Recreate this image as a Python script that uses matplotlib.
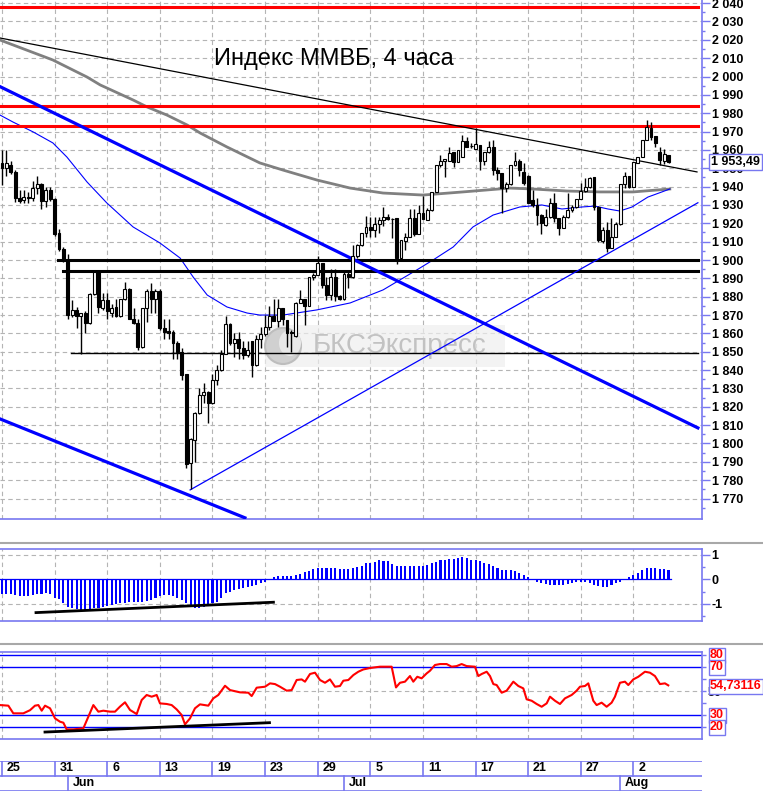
import numpy as np
import matplotlib
matplotlib.use('Agg')
import matplotlib.pyplot as plt
from matplotlib.patches import Rectangle, Ellipse

plt.rcParams['font.family'] = ['Liberation Sans', 'DejaVu Sans']

#####################################
###             Data              ###
# 4-hour candles (open, high, low, close), one per bar
opens = [1953, 1950, 1952, 1948, 1934, 1932.5, 1934.5, 1934, 1939, 1941.5, 1932, 1938,
         1933, 1914.5, 1906, 1900, 1870, 1873, 1869.5, 1871, 1865.5, 1881.5, 1893.6, 1874,
         1878, 1871, 1874.5, 1869.5, 1878.5, 1884, 1868, 1865.5, 1852.7, 1873.6, 1883, 1879,
         1883, 1862.7, 1861.3, 1861, 1854.5, 1850, 1837.8, 1789.4, 1802, 1816.7, 1826.7, 1828,
         1822, 1834.5, 1840, 1849, 1865, 1854.5, 1857, 1852, 1848, 1855.8, 1842.7, 1856.8,
         1859.7, 1863.3, 1869.5, 1867, 1873.7, 1867.3, 1861, 1858.6, 1876.7, 1878.5, 1875, 1890.5,
         1891.8, 1898.2, 1886.4, 1881, 1890.5, 1880.4, 1879, 1892.4, 1891, 1902.2, 1908.2, 1914.5,
         1917.8, 1916.4, 1919.6, 1921.6, 1923.3, 1922.2, 1922.8, 1901, 1910.5, 1912.7, 1922.7, 1914.2,
         1925.4, 1922, 1927, 1937.2, 1951.8, 1954, 1954.1, 1959, 1953.6, 1956.3, 1965, 1962,
         1960.3, 1962.6, 1954.1, 1959, 1961.8, 1949.1, 1947.2, 1939, 1941.4, 1951.8, 1954.1, 1948.1,
         1946, 1932.7, 1930, 1924.5, 1919, 1923.2, 1931.2, 1922.7, 1917.2, 1923.2, 1927.2, 1929,
         1933, 1937.8, 1939.6, 1945.4, 1929, 1910.5, 1916.4, 1906.4, 1912.7, 1919.6, 1941.4, 1945.8,
         1939.6, 1953.1, 1956, 1965.4, 1971.8, 1967.6, 1959, 1954.1, 1957.2]
highs = [1960, 1960, 1954, 1949, 1938, 1938, 1937, 1943, 1946, 1942, 1940, 1940,
         1934, 1917, 1907, 1903, 1878, 1874.5, 1871, 1872, 1882, 1894, 1894, 1882,
         1882, 1876, 1879, 1879, 1888, 1885, 1873.6, 1868, 1873.6, 1884, 1887.6, 1884,
         1884, 1868, 1868, 1862, 1856, 1852, 1838, 1803, 1817, 1830, 1832.7, 1828.5,
         1838, 1842.7, 1851, 1869.5, 1865.5, 1860, 1861, 1856, 1856, 1856, 1859, 1863.7,
         1870, 1875, 1879, 1879, 1874, 1867.5, 1862, 1877, 1883.6, 1879, 1890.5, 1893,
         1902.2, 1898.5, 1891, 1895, 1895, 1881, 1894, 1894, 1908, 1908.5, 1914.8, 1924,
         1923.6, 1923.6, 1923.6, 1928.7, 1925, 1922.8, 1923, 1911, 1914.5, 1928, 1927.6, 1930,
         1934.9, 1928.2, 1937.2, 1951.8, 1957.2, 1955, 1961.8, 1959.1, 1960, 1968.1, 1967.2, 1963.5,
         1971.8, 1962.6, 1959, 1965, 1965.4, 1950.9, 1947.5, 1942.7, 1951.8, 1959, 1955, 1952.7,
         1946.3, 1938, 1934, 1925, 1927.6, 1933.6, 1936.3, 1923, 1924.5, 1936.6, 1930, 1933.5,
         1941.8, 1944.5, 1945.4, 1945.5, 1929.2, 1918.2, 1920.9, 1922.7, 1920.9, 1941.4, 1948.1, 1945.9,
         1953.6, 1956.3, 1965.4, 1976.3, 1975.4, 1967.7, 1961.8, 1960.3, 1957.3]
lows = [1941, 1946, 1947, 1931.5, 1931, 1931, 1931, 1932, 1936, 1928, 1929, 1932,
        1913, 1905, 1899, 1868, 1869, 1863, 1849, 1860, 1865, 1881, 1871, 1873,
        1868, 1869, 1868.7, 1869, 1878, 1868, 1865, 1851, 1852, 1866, 1871, 1871,
        1862, 1857, 1857, 1846, 1846, 1834.5, 1786.4, 1775, 1790, 1816, 1821.8, 1811,
        1821.5, 1832, 1839.5, 1849, 1853.6, 1847, 1846, 1845.8, 1847, 1836.4, 1842, 1852,
        1858.6, 1862, 1866.5, 1863.7, 1864.6, 1852.8, 1850, 1858, 1876.3, 1864.6, 1874.8, 1889,
        1891.8, 1884.6, 1878.2, 1878.2, 1877.8, 1878, 1878, 1885, 1890, 1901, 1907.8, 1912.4,
        1912.7, 1912.7, 1914.5, 1918.5, 1921.8, 1912, 1898, 1900.9, 1905.5, 1912.6, 1913.1, 1914.2,
        1922.2, 1921.8, 1926.9, 1937.2, 1950.9, 1945.4, 1954, 1950.9, 1953.5, 1956.3, 1961.8, 1960.9,
        1960.3, 1949, 1951.8, 1958.1, 1946.3, 1943.6, 1925.4, 1937.2, 1941, 1951.5, 1946, 1940.9,
        1931, 1929, 1919, 1914.2, 1918.8, 1922.7, 1920.9, 1913.6, 1917.2, 1922.7, 1926.3, 1928.5,
        1933, 1937.2, 1939, 1927.2, 1910, 1909, 1904.5, 1906.3, 1912.5, 1919, 1939, 1939,
        1939.6, 1952.6, 1956, 1965.4, 1965.4, 1961.8, 1951.8, 1952.3, 1952.6]
closes = [1950, 1953, 1948, 1934, 1932, 1934.5, 1934, 1939, 1941.5, 1932, 1938, 1933,
          1914, 1906, 1900, 1870, 1873, 1869.5, 1871, 1865.5, 1881.5, 1893.6, 1874.5, 1878,
          1872, 1874, 1869.5, 1878.5, 1884, 1868, 1865.5, 1852.4, 1873.6, 1883, 1879, 1883,
          1862.7, 1861, 1860.4, 1854.5, 1849.6, 1837.5, 1789, 1802.7, 1816.7, 1826.7, 1828, 1822,
          1834.5, 1840, 1849, 1865, 1854.5, 1857, 1852, 1848, 1851, 1842.7, 1856.7, 1859.7,
          1863.3, 1869.5, 1867, 1873.7, 1867.7, 1860, 1860, 1876.7, 1878.5, 1875, 1890.5, 1891.8,
          1898.2, 1886.4, 1881, 1890.5, 1880.4, 1879, 1892.4, 1891, 1902.2, 1908.2, 1914.5, 1917.8,
          1916.4, 1919.6, 1921.6, 1923.3, 1922.2, 1922.6, 1900.9, 1910.9, 1912.7, 1922.7, 1914.2, 1925.4,
          1922.2, 1927.3, 1937.2, 1951.8, 1954.1, 1954.8, 1958.1, 1953.6, 1960, 1965, 1961.8, 1962,
          1963.2, 1954.1, 1959, 1961.8, 1949.1, 1947.2, 1939, 1941.4, 1951.8, 1954.1, 1949.1, 1941.8,
          1931.2, 1930, 1924.5, 1920, 1923.2, 1931.2, 1922.7, 1917.2, 1923.2, 1927.2, 1929, 1933,
          1937.8, 1939.6, 1944.5, 1929, 1910.9, 1916.4, 1906.4, 1912.7, 1919.6, 1941.4, 1945.8, 1939.6,
          1953.6, 1956, 1965.4, 1972.3, 1967.2, 1964, 1954.5, 1957.7, 1953.49]

# moving averages (bar position, value)
ma_slow_x = [-0.46, 11.6, 19.4, 22.4, 29.9, 33.1, 37.6, 42.2, 45.2, 51.3, 58.8, 64.1, 71.8,
             79.4, 86.9, 96.0, 105.1, 115.8, 121.1, 128.8, 136.4, 143.9, 152.3]
ma_slow = [2019.9, 2009.0, 1999.7, 1995.4, 1987.2, 1983.4, 1979.0, 1973.6, 1969.2, 1961.6,
           1952.9, 1949.0, 1943.6, 1939.2, 1936.5, 1935.4, 1937.1, 1939.2, 1938.7, 1937.6,
           1937.1, 1937.1, 1938.7]
ma_fast_x = [-0.46, 2.5, 7.1, 11.6, 14.8, 19.4, 23.9, 29.9, 36.0, 40.6, 43.6, 46.8, 51.3,
             55.9, 58.8, 64.1, 71.8, 79.4, 86.9, 94.6, 98.3, 102.9, 107.4, 112.0, 118.1,
             123.1, 127.7, 132.3, 135.2, 138.2, 140.9, 143.7, 147.3, 150.5, 152.3]
ma_fast = [1979.0, 1975.2, 1969.8, 1963.8, 1956.1, 1942.5, 1931.1, 1918.0, 1909.3, 1901.1,
           1890.7, 1880.9, 1874.4, 1871.1, 1870.0, 1870.0, 1872.8, 1876.6, 1883.7, 1894.6,
           1900.0, 1907.1, 1918.0, 1924.5, 1928.9, 1930.0, 1927.8, 1928.9, 1929.4, 1927.8,
           1926.7, 1928.9, 1934.3, 1937.1, 1938.7]

# drawn levels and trend lines
red_levels = [2038, 1984, 1973]
support_levels = [1900, 1894]
support_start = [12.8, 13.9]
thin_level = 1849.2
thin_level_start = 15.7
trend_down = ([-0.46, 158.5], [2021, 1948])
channel_top = ([-0.46, 158.7], [1994.5, 1808.5])
channel_bottom = ([-0.46, 55.4], [1813.4, 1759.5])
trend_up = ([42.9, 158.7], [1774.7, 1931.2])
last_price = 1953.49

# MACD histogram, one per bar
macd = [-0.61, -0.61, -0.59, -0.64, -0.66, -0.66, -0.66, -0.64, -0.61, -0.59, -0.57, -0.59,
        -0.77, -0.81, -0.97, -1.11, -1.18, -1.22, -1.24, -1.24, -1.22, -1.18, -1.15, -1.11,
        -1.07, -1.04, -1.01, -0.97, -0.95, -0.93, -0.91, -0.91, -0.91, -0.86, -0.84, -0.77,
        -0.68, -0.64, -0.64, -0.68, -0.77, -0.84, -0.97, -1.11, -1.15, -1.15, -1.11, -1.07,
        -0.97, -0.91, -0.77, -0.57, -0.50, -0.43, -0.41, -0.36, -0.30, -0.27, -0.24, -0.16,
        -0.11, -0.03, 0.08, 0.14, 0.14, 0.14, 0.14, 0.18, 0.22, 0.28, 0.35, 0.42,
        0.46, 0.46, 0.46, 0.45, 0.46, 0.41, 0.41, 0.43, 0.45, 0.49, 0.55, 0.65,
        0.68, 0.70, 0.77, 0.75, 0.73, 0.63, 0.55, 0.55, 0.55, 0.52, 0.55, 0.55,
        0.55, 0.59, 0.66, 0.71, 0.77, 0.79, 0.84, 0.84, 0.86, 0.89, 0.86, 0.79,
        0.77, 0.73, 0.68, 0.63, 0.55, 0.45, 0.38, 0.36, 0.36, 0.33, 0.25, 0.18,
        0.08, -0.03, -0.11, -0.16, -0.19, -0.22, -0.25, -0.25, -0.23, -0.21, -0.16, -0.12,
        -0.11, -0.12, -0.16, -0.23, -0.29, -0.33, -0.30, -0.25, -0.16, -0.10, 0.0, 0.08,
        0.16, 0.27, 0.38, 0.44, 0.44, 0.44, 0.41, 0.41, 0.38]
macd_div = ([7.75, 61.9], [-1.35, -0.93])

# RSI (bar position, value)
rsi_x = [-0.46, 1.44, 2.58, 4.86, 6.38, 7.52, 8.29, 9.05, 9.81, 10.95, 12.09, 13.23, 13.99,
         14.75, 16.27, 18.55, 19.69, 20.83, 21.97, 23.11, 24.63, 25.77, 26.91, 28.05, 29.19,
         30.71, 31.85, 32.99, 34.13, 35.27, 36.03, 37.56, 38.69, 39.83, 40.97, 41.73, 42.87,
         44.01, 45.15, 47.05, 48.19, 49.33, 50.86, 52.0, 54.28, 56.18, 56.94, 58.08, 59.98,
         61.12, 62.26, 63.4, 64.92, 66.06, 67.2, 68.34, 69.1, 70.24, 71.38, 72.52, 73.66,
         74.8, 75.94, 77.08, 77.84, 78.98, 80.12, 81.26, 82.4, 83.92, 86.2, 88.86, 89.85,
         90.76, 91.9, 93.04, 93.8, 94.71, 95.7, 96.84, 97.6, 98.74, 99.88, 101.4, 102.54,
         103.68, 104.82, 105.96, 107.86, 108.62, 109.39, 110.53, 111.29, 112.05, 112.81,
         113.95, 115.09, 116.61, 117.75, 118.89, 119.65, 120.79, 121.93, 123.07, 124.21,
         124.97, 126.11, 127.25, 128.39, 129.91, 131.05, 131.81, 132.95, 133.71, 134.85,
         135.61, 136.75, 137.89, 139.03, 139.79, 140.93, 142.07, 142.83, 143.97, 145.11,
         146.63, 147.77, 148.91, 150.05, 151.19, 151.95]
rsi = [38.3, 37.8, 31.4, 31.4, 34.0, 37.8, 38.3, 33.6, 37.8, 35.6, 27.2, 24.4, 23.6,
       18.0, 18.0, 18.9, 28.6, 38.3, 32.8, 33.6, 32.8, 32.8, 37.0, 40.6, 34.2,
       30.8, 42.5, 46.7, 45.3, 46.7, 39.7, 39.2, 38.3, 34.7, 30.0, 22.2, 27.2,
       35.6, 38.9, 37.8, 43.9, 46.7, 54.4, 50.8, 48.9, 48.6, 45.8, 52.8, 53.6,
       56.4, 55.8, 53.6, 50.3, 50.8, 59.2, 59.7, 57.8, 64.2, 65.3, 59.2, 56.9,
       59.7, 53.6, 54.2, 58.6, 59.2, 63.3, 66.1, 68.0, 69.2, 70.3, 70.3, 53.0,
       56.9, 57.8, 62.5, 57.8, 61.9, 60.6, 64.7, 66.9, 71.7, 72.5, 72.5, 70.3,
       70.8, 72.5, 70.8, 70.3, 62.5, 64.2, 66.1, 62.5, 55.8, 55.0,
       48.6, 50.3, 57.8, 54.2, 52.2, 43.1, 41.9, 39.2, 36.9, 39.7,
       45.3, 41.9, 39.2, 43.9, 46.7, 50.3, 53.6, 54.2, 56.4, 41.9,
       38.3, 40.3, 36.9, 40.3, 45.3, 56.9, 57.8, 55.0, 59.7, 61.9,
       66.1, 65.3, 62.5, 55.8, 56.4, 54.73116]
rsi_levels = [80, 70, 30, 20]
rsi_div = ([9.8, 61.0], [15.8, 23.6])

# date axis
day_labels = ['25', '31', '6', '13', '19', '23', '29', '5', '11', '17', '21', '27', '2']
bars_per_label = 12
month_labels = ['Jun', 'Jul', 'Aug']
month_start = [15, 78, 141]
#####################################

W, H = 763, 794
AXC = '#7878f0'
GRID = '#b4b4b4'
XMIN, XMAX = -0.46, 159.64
FS = 9


def px_rect(top, bottom, left=0, right=702):
    return [left / W, 1 - bottom / H, (right - left) / W, (bottom - top) / H]


def style_panel(ax):
    ax.set_xlim(XMIN, XMAX)
    ax.set_facecolor('white')
    ax.spines['left'].set_visible(False)
    for s in ['right', 'bottom', 'top']:
        ax.spines[s].set_color(AXC)
        ax.spines[s].set_linewidth(1.2)
    ax.yaxis.tick_right()
    ax.tick_params(axis='y', which='both', colors=AXC, labelcolor='black', pad=1,
                   labelsize=FS)
    ax.tick_params(axis='y', which='major', length=6, width=1)
    ax.tick_params(axis='y', which='minor', length=2.5, width=1)
    ax.set_xticks([])
    for k in range(len(day_labels)):
        ax.axvline(k * bars_per_label, color=GRID, lw=0.8, ls=(0, (4, 3)), zorder=0)


fig = plt.figure(figsize=(W / 100, H / 100), dpi=100)

# ---------------- main price panel ----------------
ax = fig.add_axes(px_rect(0, 519))
style_panel(ax)
ax.spines['top'].set_visible(False)
ax.set_ylim(1758.85, 2041.7)
ticks = np.arange(1770, 2041, 10)
ax.set_yticks(ticks)
ax.set_yticks(np.arange(1765, 2041, 10), minor=True)
ax.set_yticklabels(['{:,}'.format(int(t)).replace(',', ' ') for t in ticks],
                   fontweight='bold', fontsize=FS)
for t in ticks:
    ax.axhline(t, color=GRID, lw=0.8, ls=(0, (4, 3)), zorder=0)

idx = np.arange(len(closes))
o = np.array(opens)
c = np.array(closes)
ax.vlines(idx, lows, highs, color='black', lw=1, zorder=5)
up = c >= o
body = np.maximum(np.abs(c - o), 0.4)
ax.bar(idx, body, bottom=np.minimum(o, c), width=0.66,
       color=np.where(up, 'white', 'black'), edgecolor='black', linewidth=0.8, zorder=6)

ax.plot(ma_slow_x, ma_slow, color='#808080', lw=2.0, zorder=3)
ax.plot(ma_fast_x, ma_fast, color='#0000ff', lw=0.8, zorder=3)

for lv in red_levels:
    ax.plot([XMIN, 158.7], [lv, lv], color='#ff0000', lw=2.2, zorder=4)
for lv, st in zip(support_levels, support_start):
    ax.plot([st, 158.7], [lv, lv], color='black', lw=2.2, zorder=4)
ax.plot([thin_level_start, 158.7], [thin_level, thin_level], color='black', lw=1, zorder=4)
ax.plot(*trend_down, color='black', lw=0.9, zorder=4)
ax.plot(*channel_top, color='#0000ff', lw=2.3, zorder=4)
ax.plot(*channel_bottom, color='#0000ff', lw=2.3, zorder=4)
ax.plot(*trend_up, color='#0000ff', lw=0.9, zorder=4)

ax.text(0.475, 0.887, 'Индекс ММВБ, 4 часа', transform=ax.transAxes, ha='center',
        va='center', fontsize=17, color='black', zorder=7)

# watermark
ax.add_patch(Rectangle((265 / 702, 1 - 367 / 519), 240 / 702, 42 / 519, transform=ax.transAxes,
                       facecolor='#eeeeee', edgecolor='none', alpha=0.7, zorder=1))
ax.add_patch(Ellipse((283 / 702, 1 - 346 / 519), 36 / 702, 36 / 519, transform=ax.transAxes,
                     facecolor='#d0d0d0', edgecolor='#bdbdbd', lw=1.5, zorder=1))
ax.add_patch(Ellipse((290 / 702, 1 - 343 / 519), 22 / 702, 26 / 519, transform=ax.transAxes,
                     facecolor='#e8e8e8', edgecolor='none', zorder=1))
ax.text(400 / 702, 1 - 346 / 519, 'БКСЭкспресс', transform=ax.transAxes, ha='center',
        va='center', fontsize=20, color='#c2c2c2', zorder=1)

# last price box
ax.text(1.0 + 9 / 702, last_price, '{:,.2f}'.format(last_price).replace(',', ' ').replace('.', ','),
        transform=ax.get_yaxis_transform(), ha='left', va='center', fontsize=FS,
        fontweight='bold', color='black', zorder=8, clip_on=False,
        bbox=dict(boxstyle='square,pad=0.15', facecolor='white', edgecolor=AXC, lw=1))

# ---------------- MACD histogram ----------------
ax2 = fig.add_axes(px_rect(549.3, 621))
style_panel(ax2)
ax2.set_ylim(-1.69, 1.215)
ax2.set_yticks([-1, 0, 1])
ax2.set_yticks([-1.5, -0.5, 0.5], minor=True)
ax2.set_yticklabels(['-1', '0', '1'], fontweight='bold', fontsize=FS)
for t in [-1, 1]:
    ax2.axhline(t, color=GRID, lw=0.8, ls=(0, (4, 3)), zorder=0)
ax2.axhline(0, color='#0000ff', lw=0.9, xmax=(152.5 - XMIN) / (XMAX - XMIN), zorder=2)
ax2.bar(np.arange(len(macd)), macd, width=0.48, color='#0000ff', zorder=3)
ax2.plot(*macd_div, color='black', lw=2, zorder=4)

# ---------------- RSI ----------------
ax3 = fig.add_axes(px_rect(651.7, 739.3))
style_panel(ax3)
ax3.set_ylim(9.75, 82.8)
ax3.set_yticks(np.arange(20, 81, 10))
ax3.set_yticklabels(['', '', '', '50', '', '', ''], fontweight='bold', fontsize=FS)
ax3.tick_params(axis='y', which='major', length=3)
ax3.axhline(50, color=GRID, lw=0.8, ls=(0, (4, 3)), zorder=0)
for lv in rsi_levels:
    ax3.axhline(lv, color='#0000ff', lw=1, zorder=2)
    ax3.text(1.0 + 8 / 702, lv, str(lv), transform=ax3.get_yaxis_transform(), ha='left',
             va='center', fontsize=FS, fontweight='bold', color='#ff0000', clip_on=False,
             bbox=dict(boxstyle='square,pad=0.12', facecolor='white', edgecolor=AXC, lw=1))
ax3.text(1.0 + 8 / 702, rsi[-1] - 0.8, '{:.5f}'.format(rsi[-1]).replace('.', ','),
         transform=ax3.get_yaxis_transform(), ha='left', va='center', fontsize=FS,
         fontweight='bold', color='#ff0000', clip_on=False,
         bbox=dict(boxstyle='square,pad=0.12', facecolor='white', edgecolor=AXC, lw=1))
ax3.plot(rsi_x, rsi, color='#ff0000', lw=1.5, zorder=4)
ax3.plot(*rsi_div, color='black', lw=2, zorder=5)

# ---------------- panel separators ----------------
for yy in [542.7, 644]:
    fig.add_artist(plt.Line2D([0, 1], [1 - yy / H, 1 - yy / H], color='#a8a8a8', lw=1.5))

# ---------------- date axis ----------------
ax4 = fig.add_axes(px_rect(760.7, 790.7))
ax4.set_xlim(XMIN, XMAX)
ax4.set_ylim(0, 2)
ax4.axis('off')
for yy in [0, 1, 2]:
    ax4.axhline(yy, color=AXC, lw=1.2)
for k, lab in enumerate(day_labels):
    xb = k * bars_per_label
    ax4.plot([xb, xb], [1, 2], color=AXC, lw=1.2)
    ax4.text(xb + 1.1, 1.5, lab, ha='left', va='center', fontsize=FS, fontweight='bold')
for xb, lab in zip(month_start, month_labels):
    ax4.plot([xb, xb], [0, 1], color=AXC, lw=1.2)
    ax4.text(xb + 1.1, 0.5, lab, ha='left', va='center', fontsize=FS, fontweight='bold')

fig.savefig('out.png', dpi=100)
